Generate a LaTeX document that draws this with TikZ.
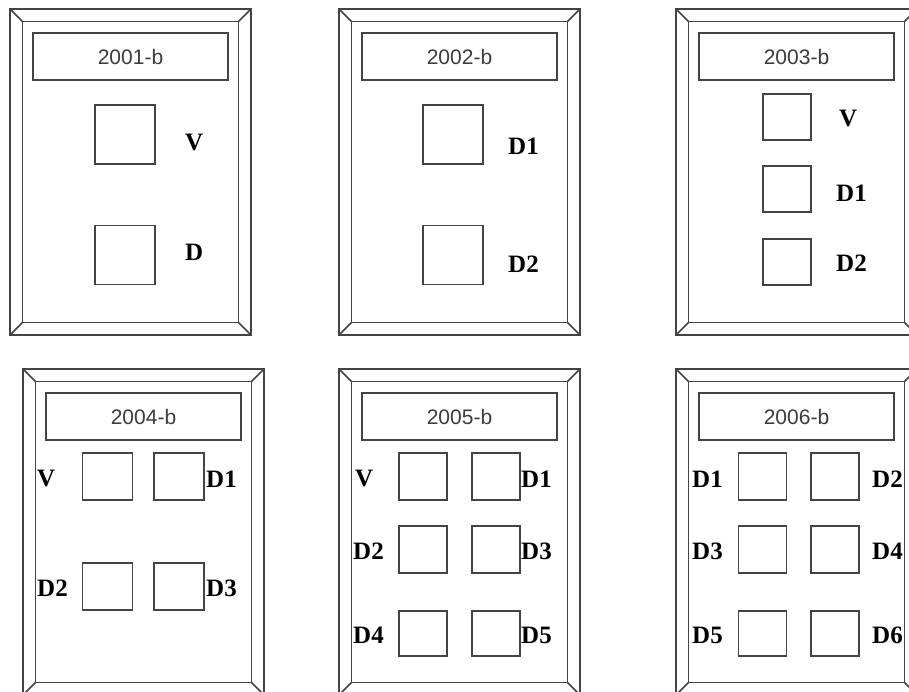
\documentclass[tikz,border=0pt]{standalone}
\usepackage{fontspec}
\setmainfont{Liberation Serif}
\newfontfamily\titlefont{Liberation Sans}
\usetikzlibrary{positioning}
\definecolor{framegray}{HTML}{444444}
\definecolor{titlegray}{HTML}{3C3C3C}
% bevelled frame with its title box, drawn in local coordinates
\newcommand{\bevelframe}[2]{%
    \draw[bevel] (0,0) rectangle (241,326);
    \draw[bevel] (12.5,12.5) rectangle (228.5,313.5);
    \draw[bevel] (0,0) -- (12.5,12.5) (241,0) -- (228.5,12.5)
        (0,326) -- (12.5,313.5) (241,326) -- (228.5,313.5);
    \node[titlebox] (#2title) at (120.5,47.5) {#1-b};
}

\begin{document}
\begin{tikzpicture}[
    x=1pt, y=-1pt,
    bevel/.style={draw=framegray, line width=1.5pt},
    titlebox/.style={
        draw=framegray,
        line width=1.5pt,
        minimum width=195pt,
        minimum height=47pt,
        inner sep=0pt,
        text=titlegray,
        font=\titlefont\fontsize{21}{24}\selectfont
    },
    slot/.style={
        draw=framegray,
        line width=1.5pt,
        minimum width=48pt,
        minimum height=47pt,
        inner sep=0pt
    },
    lbl/.style={anchor=west, inner sep=0pt,
        font=\bfseries\fontsize{25}{29}\selectfont}
]
    \fill[white] (0,0) rectangle (909,692);
    \useasboundingbox (0,0) rectangle (909,692);

    % 2001
    \begin{scope}[shift={(10,9)}]
        \bevelframe{2001}{fa}
        \node[slot, minimum width=60pt, minimum height=59pt] (faV) at (115,125.5) {};
        \node[slot, minimum width=60pt, minimum height=59pt] (faD) at (115,246) {};
        \node[lbl] (faVl) at (175,134) {V};
        \node[lbl] (faDl) at (175,243) {D};
    \end{scope}

    % 2002
    \begin{scope}[shift={(339,9)}]
        \bevelframe{2002}{fb}
        \node[slot, minimum width=60pt, minimum height=59pt] (fbD1) at (114,125.5) {};
        \node[slot, minimum width=60pt, minimum height=59pt] (fbD2) at (114,246) {};
        \node[lbl] (fbD1l) at (169,137) {D1};
        \node[lbl] (fbD2l) at (169,255) {D2};
    \end{scope}

    % 2003
    \begin{scope}[shift={(676,9)}]
        \bevelframe{2003}{fc}
        \node[slot, minimum height=46pt] (fcV) at (111,108) {};
        \node[slot, minimum height=46pt] (fcD1) at (111,180) {};
        \node[slot, minimum height=46pt] (fcD2) at (111,253) {};
        \node[lbl] (fcVl) at (163,110) {V};
        \node[lbl] (fcD1l) at (160,184) {D1};
        \node[lbl] (fcD2l) at (160,254) {D2};
    \end{scope}

    % 2004
    \begin{scope}[shift={(23,369)}]
        \bevelframe{2004}{fd}
        \node[slot, minimum width=50pt] (fdV) at (84.5,107.5) {};
        \node[slot, minimum width=50pt] (fdD1) at (156,107.5) {};
        \node[slot, minimum width=50pt] (fdD2) at (84.5,217.5) {};
        \node[slot, minimum width=50pt] (fdD3) at (156,217.5) {};
        \node[lbl] (fdVl) at (14,110) {V};
        \node[lbl] (fdD1l) at (183,110) {D1};
        \node[lbl] (fdD2l) at (14,219) {D2};
        \node[lbl] (fdD3l) at (183,219) {D3};
    \end{scope}

    % 2005
    \begin{scope}[shift={(339,369)}]
        \bevelframe{2005}{fe}
        \node[slot] (feV) at (84,107.5) {};
        \node[slot] (feD1) at (157,107.5) {};
        \node[slot] (feD2) at (84,180.5) {};
        \node[slot] (feD3) at (157,180.5) {};
        \node[slot, minimum height=45pt] (feD4) at (84,264.5) {};
        \node[slot, minimum height=45pt] (feD5) at (157,264.5) {};
        \node[lbl] (feVl) at (16,110) {V};
        \node[lbl] (feD1l) at (182,110) {D1};
        \node[lbl] (feD2l) at (14,182) {D2};
        \node[lbl] (feD3l) at (182,182) {D3};
        \node[lbl] (feD4l) at (14,266) {D4};
        \node[lbl] (feD5l) at (182,266) {D5};
    \end{scope}

    % 2006
    \begin{scope}[shift={(676,369)}]
        \bevelframe{2006}{ff}
        \node[slot] (ffD1) at (86.5,107.5) {};
        \node[slot] (ffD2) at (159,107.5) {};
        \node[slot] (ffD3) at (86.5,180.5) {};
        \node[slot] (ffD4) at (159,180.5) {};
        \node[slot, minimum height=45pt] (ffD5) at (86.5,264.5) {};
        \node[slot, minimum height=45pt] (ffD6) at (159,264.5) {};
        \node[lbl] (ffD1l) at (16,110) {D1};
        \node[lbl] (ffD2l) at (196,110) {D2};
        \node[lbl] (ffD3l) at (16,182) {D3};
        \node[lbl] (ffD4l) at (196,182) {D4};
        \node[lbl] (ffD5l) at (16,266) {D5};
        \node[lbl] (ffD6l) at (196,266) {D6};
    \end{scope}
\end{tikzpicture}
\end{document}
